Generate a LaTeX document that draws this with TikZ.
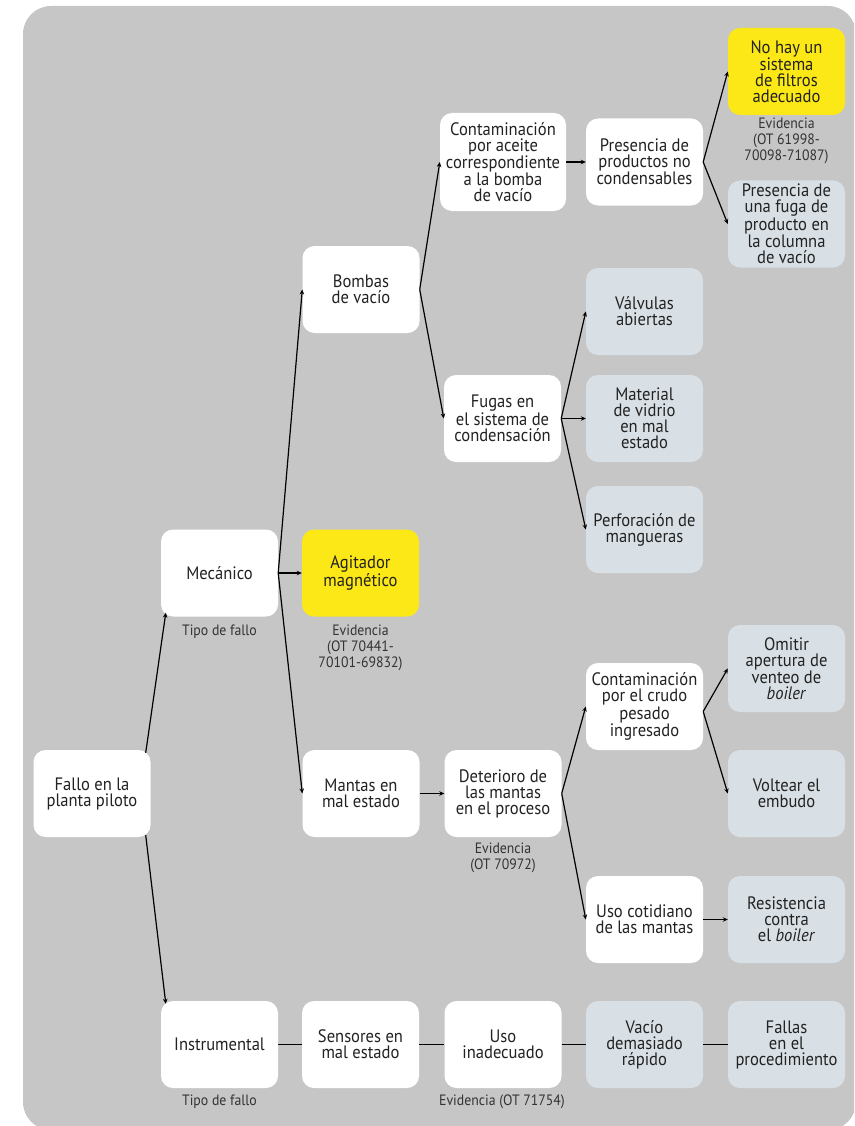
\documentclass[tikz,border=0pt]{standalone}
\usepackage{fontspec}
\setmainfont[FakeStretch=0.92]{PT Sans}
\usetikzlibrary{arrows.meta}

\definecolor{panel}{HTML}{C6C6C6}
\definecolor{pale}{HTML}{D9E0E5}
\definecolor{hilite}{HTML}{FCE816}
\definecolor{ink}{HTML}{222222}
\definecolor{note}{HTML}{333333}

\tikzset{
  box/.style={rounded corners=12pt, minimum width=117pt, minimum height=87pt,
    align=center, inner sep=1pt, text=ink,
    font=\fontsize{18}{16}\selectfont},
  wbox/.style={box, fill=white},
  gbox/.style={box, fill=pale},
  ybox/.style={box, fill=hilite},
  lbl/.style={align=center, text=note, inner sep=0pt,
    font=\fontsize{15}{16}\selectfont},
  arr/.style={line width=1.2pt, -{Stealth[length=5pt,width=4.5pt]}},
  link/.style={line width=1.2pt},
}

\begin{document}
\begin{tikzpicture}[x=1pt,y=-1pt]
\useasboundingbox (0,0) rectangle (854,1126);
\clip (0,0) rectangle (854,1126);
\fill[panel, rounded corners=28pt] (23,6) rectangle (856,1130);

% root and failure types
\node[wbox] (fallo) at (92,793.5) {Fallo en la\\planta piloto};
\node[wbox] (mec) at (219.5,573) {Mecánico};
\node[wbox] (inst) at (219.5,1044.5) {Instrumental};

% second level
\node[wbox] (bombas) at (361,289.5) {Bombas\\de vacío};
\node[ybox] (agit) at (360.5,573) {Agitador\\magnético};
\node[wbox] (mantas) at (361,793.5) {Mantas en\\mal estado};
\node[wbox] (sens) at (360.5,1044.5) {Sensores en\\mal estado};

% third level
\node[wbox, minimum width=126pt, minimum height=98pt] (contA) at (503,162)
  {Contaminación\\por aceite\\correspondiente\\a la bomba\\de vacío};
\node[wbox] (fugas) at (502.5,418.5) {Fugas en\\el sistema de\\condensación};
\node[wbox] (deter) at (503,793.5) {Deterioro de\\las mantas\\en el proceso};
\node[wbox] (usoin) at (503,1044.5) {Uso\\inadecuado};

% fourth level
\node[wbox] (pres) at (644.5,162) {Presencia de\\productos no\\condensables};
\node[gbox] (valv) at (644.5,311.5) {Válvulas\\abiertas};
\node[gbox] (mat) at (644.5,418.5) {Material\\de vidrio\\en mal\\estado};
\node[gbox] (perf) at (644.5,529.5) {Perforación de\\mangueras};
\node[wbox] (crudo) at (644.5,706.5) {Contaminación\\por el crudo\\pesado\\ingresado};
\node[wbox] (cotid) at (644.5,919.5) {Uso cotidiano\\de las mantas};
\node[gbox] (vacio) at (644.5,1044.5) {Vacío\\demasiado\\rápido};

% fifth level
\node[ybox] (nohay) at (786.5,71.5) {No hay un\\sistema\\de filtros\\adecuado};
\node[gbox] (fuga) at (786.5,224) {Presencia de\\una fuga de\\producto en\\la columna\\de vacío};
\node[gbox] (omit) at (786.5,668.5) {Omitir\\apertura de\\venteo de\\\textit{boiler}};
\node[gbox] (volt) at (786.5,793.5) {Voltear el\\embudo};
\node[gbox] (resis) at (786.5,919.5) {Resistencia\\contra\\el \textit{boiler}};
\node[gbox] (fallas) at (786.5,1044.5) {Fallas\\en el\\procedimiento};

% captions
\node[lbl] (mecl) at (219.5,632) {Tipo de fallo};
\node[lbl] (instl) at (219.5,1102) {Tipo de fallo};
\node[lbl] (agitl) at (360.5,648) {Evidencia\\(OT 70441-\\70101-69832)};
\node[lbl] (presl) at (786.5,141) {Evidencia\\(OT 61998-\\70098-71087)};
\node[lbl] (deterl) at (503,858) {Evidencia\\(OT 70972)};
\node[lbl] (usoinl) at (502,1102) {Evidencia (OT 71754)};

% connectors
\draw[arr] ([xshift=-5pt,yshift=-3pt]fallo.north east) -- ([xshift=5pt,yshift=4pt]mec.south west);
\draw[arr] ([xshift=-5pt,yshift=2pt]fallo.south east) -- ([xshift=5pt,yshift=-3pt]inst.north west);

\draw[arr] (mec.east) -- (bombas.west);
\draw[arr] (mec.east) -- (agit.west);
\draw[arr] (mec.east) -- (mantas.west);

\draw[arr] (bombas.east) -- (contA.west);
\draw[arr] (bombas.east) -- (fugas.west);
\draw[arr] (contA.east) -- (pres.west);
\draw[arr] (pres.east) -- (nohay.west);
\draw[arr] (pres.east) -- (fuga.west);
\draw[arr] (fugas.east) -- (valv.west);
\draw[arr] (fugas.east) -- (mat.west);
\draw[arr] (fugas.east) -- (perf.west);

\draw[arr] (mantas.east) -- (deter.west);
\draw[arr] (deter.east) -- (crudo.west);
\draw[arr] (deter.east) -- (cotid.west);
\draw[arr] ([yshift=-5pt]crudo.east) -- (omit.west);
\draw[arr] ([yshift=-5pt]crudo.east) -- (volt.west);
\draw[arr] (cotid.east) -- (resis.west);

\draw[link] (inst) -- (sens);
\draw[link] (sens) -- (usoin);
\draw[link] (usoin) -- (vacio);
\draw[link] (vacio) -- (fallas);
\end{tikzpicture}
\end{document}
